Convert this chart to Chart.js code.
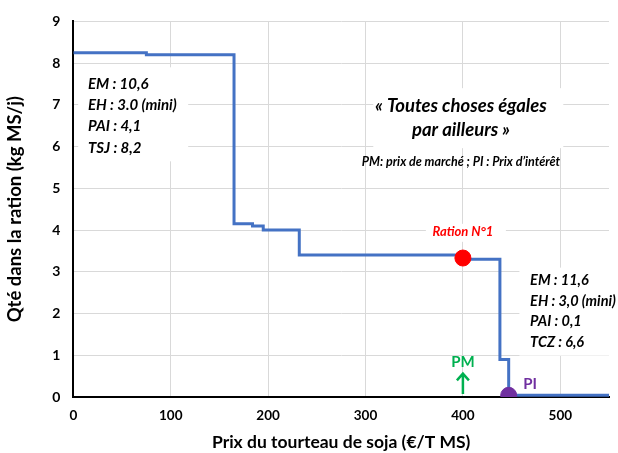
<!DOCTYPE html>
<html>
<head>
<meta charset="utf-8">
<script src="https://cdn.jsdelivr.net/npm/chart.js@4"></script>
<style>
  html, body { margin: 0; padding: 0; background: #fff; }
  #wrap { width: 618px; height: 453px; }
</style>
</head>
<body>
<div id="wrap"><canvas id="c" width="618" height="453"></canvas></div>
<script>
'use strict';

// step curve : price of soybean meal vs quantity in ration
const prices = [0, 75, 165, 184, 195, 232, 400, 438, 447, 550];
const quantities = [8.25, 8.2, 4.15, 4.1, 4.0, 3.4, 3.3, 0.9, 0.04, 0.04];

const rationPoint = { x: 400, y: 3.33 };
const piPoint = { x: 447, y: 0.04 };

const xTicks = [0, 100, 200, 300, 400, 500];
const yTicks = [0, 1, 2, 3, 4, 5, 6, 7, 8, 9];

const leftBox = ['EM : 10,6', 'EH : 3.0 (mini)', 'PAI : 4,1', 'TSJ : 8,2'];
const rightBox = ['EM : 11,6', 'EH : 3,0 (mini)', 'PAI : 0,1', 'TCZ : 6,6'];
const titleLines = ['« Toutes choses égales', 'par ailleurs »'];
const legendNote = 'PM: prix de marché ; PI : Prix d\u2019intérêt';

const FONT = 'Lato, "Open Sans", sans-serif';

const annotations = {
    id: 'annotations',
    beforeDatasetsDraw(chart) {
        const ctx = chart.ctx;
        const xs = chart.scales.x, ys = chart.scales.y;
        ctx.save();
        // white boxes hiding the grid behind texts
        ctx.fillStyle = '#fff';
        ctx.fillRect(xs.getPixelForValue(5), ys.getPixelForValue(7.9), 110, 94);
        ctx.fillRect(xs.getPixelForValue(308), ys.getPixelForValue(7.4), 190, 60);
        ctx.fillRect(xs.getPixelForValue(458), ys.getPixelForValue(3.1), 95, 88);
        ctx.fillRect(xs.getPixelForValue(362), ys.getPixelForValue(4.15), 80, 18);

        ctx.fillStyle = '#000';
        ctx.textBaseline = 'middle';
        ctx.textAlign = 'left';
        ctx.font = 'italic bold 15px ' + FONT;
        leftBox.forEach((t, i) => {
            ctx.fillText(t, xs.getPixelForValue(15), ys.getPixelForValue(7.5) + i * 21.3);
        });
        ctx.font = 'italic bold 14.5px ' + FONT;
        rightBox.forEach((t, i) => {
            ctx.fillText(t, xs.getPixelForValue(469), ys.getPixelForValue(2.8) + i * 20.8);
        });

        ctx.textAlign = 'center';
        ctx.font = 'italic bold 18.5px ' + FONT;
        titleLines.forEach((t, i) => {
            ctx.fillText(t, xs.getPixelForValue(398), ys.getPixelForValue(6.97) + i * 24);
        });
        ctx.font = 'italic bold 12.5px ' + FONT;
        ctx.fillText(legendNote, xs.getPixelForValue(398), ys.getPixelForValue(5.63));

        ctx.fillStyle = '#FF0000';
        ctx.font = 'italic bold 13px ' + FONT;
        ctx.fillText('Ration N°1', xs.getPixelForValue(400), ys.getPixelForValue(3.97));

        // PM label and arrow
        const pmX = xs.getPixelForValue(400);
        ctx.fillStyle = '#00B050';
        ctx.strokeStyle = '#00B050';
        ctx.font = 'bold 15px ' + FONT;
        ctx.fillText('PM', pmX, ys.getPixelForValue(0.83));
        ctx.lineWidth = 2.5;
        ctx.beginPath();
        ctx.moveTo(pmX, ys.getPixelForValue(0.07));
        ctx.lineTo(pmX, ys.getPixelForValue(0.55));
        ctx.moveTo(pmX - 6, ys.getPixelForValue(0.4));
        ctx.lineTo(pmX, ys.getPixelForValue(0.56));
        ctx.lineTo(pmX + 6, ys.getPixelForValue(0.4));
        ctx.stroke();

        ctx.fillStyle = '#7030A0';
        ctx.font = 'bold 15px ' + FONT;
        ctx.fillText('PI', xs.getPixelForValue(469), ys.getPixelForValue(0.3));
        ctx.restore();
    }
};

const ctx = document.getElementById('c').getContext('2d');
new Chart(ctx, {
    type: 'scatter',
    data: {
        datasets: [{
            label: 'Qté',
            data: prices.map((p, i) => ({ x: p, y: quantities[i] })),
            showLine: true,
            stepped: 'before',
            borderColor: '#4472C4',
            borderWidth: 3,
            pointRadius: 0,
            fill: false,
            order: 2
        }, {
            label: 'Ration N°1',
            data: [rationPoint],
            pointRadius: 8,
            pointBackgroundColor: '#FF0000',
            pointBorderColor: '#FF0000',
            order: 1
        }, {
            label: 'PI',
            data: [piPoint],
            pointRadius: 8,
            pointBackgroundColor: '#7030A0',
            pointBorderColor: '#7030A0',
            order: 1
        }]
    },
    options: {
        responsive: false,
        animation: false,
        layout: { padding: { left: 4, right: 9, top: 12, bottom: 0 } },
        plugins: {
            legend: { display: false },
            tooltip: { enabled: false }
        },
        scales: {
            x: {
                type: 'linear',
                min: 0,
                max: 550,
                afterBuildTicks: axis => { axis.ticks = xTicks.map(v => ({ value: v })); },
                grid: { color: '#d9d9d9', drawTicks: false },
                border: { color: '#000', width: 2 },
                ticks: { color: '#000', padding: 12, font: { family: FONT, size: 13.5, weight: 'bold', lineHeight: 1 } },
                title: { display: true, text: 'Prix du tourteau de soja (€/T MS)', color: '#000', padding: { top: -2.5, bottom: 0 }, font: { family: FONT, size: 17.5, weight: 'bold' } }
            },
            y: {
                min: 0,
                max: 9,
                afterBuildTicks: axis => { axis.ticks = yTicks.map(v => ({ value: v })); },
                grid: { color: '#d9d9d9', drawTicks: false },
                border: { color: '#000', width: 2 },
                ticks: { color: '#000', padding: 13, font: { family: FONT, size: 14, weight: 'bold' } },
                title: { display: true, text: 'Qté dans la ration (kg MS/j)', color: '#000', padding: { top: 0, bottom: 13 }, font: { family: FONT, size: 18.5, weight: 'bold' } }
            }
        }
    },
    plugins: [annotations]
});
</script>
</body>
</html>
